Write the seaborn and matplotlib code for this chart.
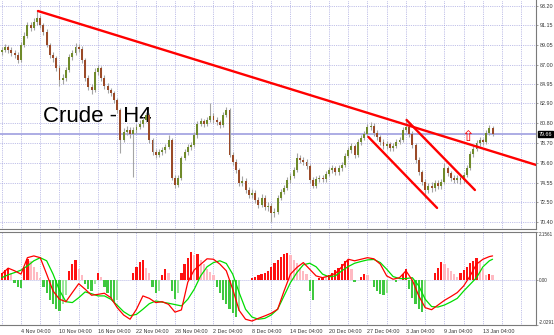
import numpy as np
import pandas as pd
import matplotlib
matplotlib.use("Agg")
import matplotlib.pyplot as plt
import seaborn as sns
from matplotlib.transforms import blended_transform_factory

sns.set_style("white")
plt.rcParams['font.family'] = ['Liberation Sans', 'DejaVu Sans']

# ---------------- data ----------------
opens = [88.30, 88.53, 88.85, 88.53, 88.20, 88.00, 87.48, 89.06, 90.00, 91.17,
         90.85, 91.48, 91.90, 91.17, 90.43, 89.06, 88.00, 87.69, 86.63, 85.37,
         85.60, 86.42, 87.79, 88.20, 88.85, 88.60, 87.48, 85.58, 84.63, 84.31,
         86.21, 86.63, 85.58, 84.74, 84.31, 84.00, 83.26, 82.21, 79.04, 79.89,
         80.10, 79.68, 80.10, 80.42, 80.73, 81.15, 81.68, 79.04, 77.78, 77.46,
         77.78, 77.99, 78.31, 79.04, 75.04, 74.30, 75.04, 77.15, 77.78, 78.31,
         78.52, 79.57, 80.73, 81.05, 80.73, 81.15, 81.57, 81.15, 80.94, 80.63,
         81.68, 82.21, 77.46, 76.73, 75.88, 74.51, 74.70, 73.77, 73.25, 73.46,
         72.72, 72.19, 72.93, 71.98, 72.09, 71.35, 71.46, 72.93, 73.56, 73.98,
         74.83, 75.25, 75.88, 77.15, 76.94, 76.73, 76.30, 74.83, 74.20, 74.93,
         75.04, 74.93, 75.46, 75.88, 76.09, 75.67, 76.09, 76.41, 77.36, 77.99,
         78.41, 77.46, 78.83, 79.25, 79.68, 80.42, 80.52, 79.78, 79.36, 78.83,
         78.41, 78.60, 78.20, 78.41, 78.83, 79.04, 80.10, 80.42, 79.68, 78.52,
         76.94, 75.67, 74.62, 73.77, 74.20, 73.98, 74.51, 74.20, 74.62, 76.09,
         75.56, 75.04, 74.83, 75.04, 74.83, 75.36, 76.09, 77.57, 78.10, 78.73,
         79.04, 78.85, 79.78, 80.31]
highs = [88.80, 89.15, 89.10, 88.85, 88.50, 88.30, 89.40, 90.40, 91.50, 91.50,
         91.90, 92.75, 92.20, 91.40, 90.70, 89.30, 88.30, 87.90, 86.90, 85.95,
         86.70, 88.10, 88.55, 89.25, 89.20, 88.90, 87.70, 85.90, 84.90, 86.60,
         86.95, 86.85, 85.85, 85.05, 84.55, 84.25, 83.50, 82.45, 80.30, 80.50,
         80.40, 80.40, 80.75, 81.10, 81.50, 82.00, 81.90, 79.30, 78.10, 78.05,
         78.30, 78.60, 79.55, 79.25, 75.35, 75.30, 77.40, 78.10, 78.60, 78.85,
         79.90, 81.05, 81.40, 81.30, 81.50, 82.94, 81.85, 81.45, 81.20, 81.95,
         82.50, 82.40, 77.75, 77.00, 76.10, 75.20, 75.00, 74.05, 73.90, 73.75,
         73.00, 73.40, 73.20, 72.50, 72.40, 71.85, 73.20, 73.90, 74.35, 75.15,
         75.60, 76.20, 77.67, 77.45, 77.20, 77.00, 76.55, 75.10, 75.25, 75.40,
         75.35, 75.80, 76.20, 76.40, 76.35, 76.40, 76.75, 77.70, 78.30, 78.75,
         78.65, 79.15, 79.60, 80.00, 80.75, 80.90, 80.85, 80.05, 79.60, 79.10,
         78.90, 78.85, 78.70, 79.10, 79.35, 80.45, 81.36, 80.70, 79.95, 78.75,
         77.20, 75.90, 74.90, 74.55, 74.60, 74.85, 74.80, 74.95, 76.60, 76.35,
         75.80, 75.35, 75.40, 75.30, 75.65, 76.40, 77.85, 78.40, 79.00, 79.35,
         79.30, 80.10, 80.62, 80.50]
lows = [88.05, 88.30, 88.25, 87.90, 87.70, 87.20, 87.30, 88.80, 89.80, 90.50,
        90.60, 91.20, 90.90, 90.10, 88.80, 87.70, 87.30, 86.30, 84.70, 84.90,
        85.30, 86.20, 87.50, 88.00, 88.30, 87.20, 85.30, 84.30, 83.90, 84.10,
        85.90, 85.30, 84.45, 84.00, 83.70, 82.95, 81.90, 77.70, 78.80, 79.60,
        79.30, 75.14, 79.80, 80.15, 80.45, 80.90, 78.70, 77.45, 77.10, 77.20,
        77.50, 77.70, 78.05, 74.80, 73.95, 74.05, 74.85, 76.90, 77.50, 78.00,
        78.30, 79.30, 80.50, 80.45, 80.50, 80.90, 80.85, 80.65, 80.30, 80.40,
        81.45, 77.20, 76.40, 75.55, 74.20, 74.20, 73.45, 72.90, 72.95, 72.40,
        71.90, 71.95, 71.65, 71.60, 70.40, 70.90, 71.25, 72.70, 73.30, 73.75,
        74.55, 75.00, 75.65, 76.65, 76.40, 75.95, 74.50, 73.98, 73.95, 74.65,
        74.60, 74.65, 75.20, 75.60, 75.35, 75.40, 75.80, 76.15, 77.10, 77.70,
        77.15, 77.20, 78.55, 79.00, 79.40, 80.10, 79.50, 79.05, 78.50, 78.10,
        78.10, 77.85, 77.90, 78.15, 78.60, 78.80, 79.90, 79.40, 78.20, 76.65,
        75.35, 74.30, 72.95, 73.45, 73.60, 73.65, 73.85, 73.90, 74.40, 75.25,
        74.70, 74.50, 74.55, 74.45, 74.55, 75.10, 75.85, 77.30, 77.85, 78.45,
        78.55, 78.60, 79.55, 79.45]
closes = [88.53, 88.85, 88.53, 88.20, 88.00, 87.48, 89.06, 90.00, 91.17, 90.85,
          91.48, 91.90, 91.17, 90.43, 89.06, 88.00, 87.69, 86.63, 85.37, 85.60,
          86.42, 87.79, 88.20, 88.85, 88.60, 87.48, 85.58, 84.63, 84.31, 86.21,
          86.63, 85.58, 84.74, 84.31, 84.00, 83.26, 82.21, 79.04, 79.89, 80.10,
          79.68, 80.10, 80.42, 80.73, 81.15, 81.68, 79.04, 77.78, 77.46, 77.78,
          77.99, 78.31, 79.04, 75.04, 74.30, 75.04, 77.15, 77.78, 78.31, 78.52,
          79.57, 80.73, 81.05, 80.73, 81.15, 81.57, 81.15, 80.94, 80.63, 81.68,
          82.21, 77.46, 76.73, 75.88, 74.51, 74.70, 73.77, 73.25, 73.46, 72.72,
          72.19, 72.93, 71.98, 72.09, 71.35, 71.46, 72.93, 73.56, 73.98, 74.83,
          75.25, 75.88, 77.15, 76.94, 76.73, 76.30, 74.83, 74.20, 74.93, 75.04,
          74.93, 75.46, 75.88, 76.09, 75.67, 76.09, 76.41, 77.36, 77.99, 78.41,
          77.46, 78.83, 79.25, 79.68, 80.42, 80.52, 79.78, 79.36, 78.83, 78.41,
          78.60, 78.20, 78.41, 78.83, 79.04, 80.10, 80.42, 79.68, 78.52, 76.94,
          75.67, 74.62, 73.77, 74.20, 73.98, 74.51, 74.20, 74.62, 76.09, 75.56,
          75.04, 74.83, 75.04, 74.83, 75.36, 76.09, 77.57, 78.10, 78.73, 79.04,
          78.85, 79.78, 80.31, 79.66]

hist = [0.30, 0.45, 0.55, 0.30, -0.15, -0.30, -0.35, 0.60, 0.95, 0.85,
        0.60, 0.35, 0.10, -0.30, -0.60, -0.90, -1.10, -1.30, -1.40, -1.10,
        -0.70, 0.40, 0.70, 0.90, 0.50, 0.20, -0.20, -0.40, -0.50, -0.20,
        0.30, 0.15, -0.30, -0.60, -0.80, -1.00, -0.90, 0.00, 0.00, 0.00,
        0.00, 0.30, 0.60, 0.80, 0.90, 0.55, 0.30, -0.30, -0.60, -0.50,
        0.20, 0.50, 0.30, -0.50, -0.85, -0.60, 0.30, 0.70, 1.00, 1.25,
        1.10, 1.15, 0.90, 0.70, 0.50, 0.35, 0.20, -0.30, -0.60, -0.90,
        -1.10, -1.30, -1.50, -1.65, -1.40, 0.00, 0.00, 0.00, 0.10, 0.15,
        0.20, 0.25, 0.30, 0.40, 0.60, 0.75, 0.90, 1.05, 1.15, 1.23,
        1.10, 0.90, 0.75, 0.55, 0.40, 0.25, -0.50, -0.90, 0.00, 0.10,
        0.15, 0.12, 0.20, 0.30, 0.45, 0.55, 0.70, 0.85, 0.90, 0.50,
        -0.10, 0.00, 0.15, 0.25, 0.20, 0.00, -0.30, -0.50, -0.65, -0.70,
        -0.60, 0.00, 0.00, -0.10, 0.00, 0.25, 0.50, -0.40, -0.80, -1.10,
        -1.30, -1.45, -1.20, 0.00, 0.00, 0.30, 0.55, 0.80, 0.70, 0.55,
        0.40, 0.25, 0.15, 0.30, 0.45, 0.60, 0.75, 0.85, 1.00, 0.80,
        0.50, 0.20, 0.25, 0.20]

line_bars = list(range(0, 153, 2)) + [153]
fast_line = [0.26, 0.53, 0.41, 0.26, 1.00, 1.08, 1.00, 0.26, -0.50, -0.87,
             -0.98, -0.57, -0.17, -0.42, -0.69, -0.65, -0.60, -0.80, -1.25, -1.58,
             -1.77, -1.32, -0.72, -0.83, -1.02, -0.98, -1.10, -1.45, -1.35, -0.10,
             0.45, 0.70, 0.95, 0.93, 0.71, 0.41, -0.42, -1.37, -1.77, -1.85,
             -1.73, -1.62, -1.50, -1.32, -0.50, 0.26, 0.56, 0.78, 0.48, 0.18,
             0.10, 0.18, 0.29, 0.59, 0.93, 0.86, 0.93, 1.00, 0.95, 0.71,
             0.18, 0.03, 0.10, 0.41, -0.02, -0.72, -1.25, -1.34, -1.13, -0.92,
             -0.75, -0.57, -0.27, 0.18, 0.71, 0.93, 1.05, 1.08]
slow_line = [0.10, 0.23, 0.33, 0.44, 0.63, 0.86, 1.00, 0.86, 0.26, -0.47,
             -0.98, -1.02, -0.80, -0.54, -0.62, -0.72, -0.72, -0.87, -1.14, -1.43,
             -1.61, -1.55, -1.32, -1.07, -0.95, -1.00, -1.05, -1.11, -1.17, -0.87,
             -0.42, 0.18, 0.59, 0.78, 0.86, 0.74, 0.26, -0.57, -1.32, -1.67,
             -1.77, -1.73, -1.58, -1.32, -0.72, -0.12, 0.33, 0.68, 0.75, 0.59,
             0.26, 0.14, 0.18, 0.41, 0.60, 0.75, 0.83, 0.90, 0.92, 0.78,
             0.48, 0.15, 0.06, 0.06, 0.10, -0.27, -0.87, -1.20, -1.22, -1.13,
             -0.99, -0.83, -0.50, -0.20, 0.10, 0.59, 0.86, 0.93]

date_ticks = [6, 18, 30, 42, 54, 66, 78, 90, 102, 114, 126, 138, 150]
date_labels = ['4 Nov 04:00', '10 Nov 04:00', '16 Nov 04:00', '22 Nov 04:00',
               '28 Nov 04:00', '2 Dec 04:00', '8 Dec 04:00', '14 Dec 04:00',
               '20 Dec 04:00', '27 Dec 04:00', '3 Jan 04:00', '9 Jan 04:00',
               '13 Jan 04:00']
price_ticks = [93.20, 91.15, 89.05, 87.00, 84.95, 82.90, 80.80, 78.70,
               76.60, 74.55, 72.50, 70.40]
ind_ticks = [2.1561, 0.00, -2.0291]
ind_labels = ['2.1561', '0.00', '-2.0291']
last_price = 79.66

trend_long_x = [11.3, 166.6]
trend_long_y = [92.64, 76.41]
trend_a_x = [114.3, 135.7]
trend_a_y = [79.36, 71.88]
trend_b_x = [126.2, 147.5]
trend_b_y = [81.15, 73.77]
arrow_bar, arrow_price = 145.3, 79.40
title_text = 'Crude - H4'

# ---------------- figure ----------------
W, H = 554, 335
fig = plt.figure(figsize=(W / 100, H / 100), dpi=100)
fig.patch.set_facecolor('white')
right = 536 / W
ax1 = fig.add_axes([0, 1 - 229 / H, right, 229 / H])
ax2 = fig.add_axes([0, 1 - 325 / H, right, 93 / H])

xlim = (-0.545, 166.54)
grid_col = '#9c9cdc'
grid_ls = (0, (1, 1.4))
spine_col = '#7a7a7a'
lab_col = '#333333'

df = pd.DataFrame({'bar': np.arange(len(closes)), 'open': opens, 'high': highs,
                   'low': lows, 'close': closes, 'hist': hist})

# grid
for ax in (ax1, ax2):
    ax.set_xlim(*xlim)
    for v in np.arange(0, 167, 6):
        ax.axvline(v, color=grid_col, ls=grid_ls, lw=0.55, zorder=0)
for p in price_ticks:
    ax1.axhline(p, color=grid_col, ls=grid_ls, lw=0.55, zorder=0)
ax2.axhline(0, color=grid_col, ls=grid_ls, lw=0.6, zorder=0)

# price panel
ax1.set_ylim(69.66, 93.80)
ax1.text(43 / W, 1 - 122 / H, title_text, transform=fig.transFigure,
         fontsize=16, color='black', va='baseline', ha='left', zorder=1,
         family=['Liberation Sans', 'DejaVu Sans'])
ax1.axhline(last_price, color='#a6a6e2', lw=1.3, zorder=2)

up = df['close'] >= df['open']
ax1.vlines(df['bar'], df['low'], df['high'], color='#a5a5a5', lw=0.8, zorder=3)
ax1.bar(df['bar'], (df['close'] - df['open']).abs().clip(lower=0.06),
        bottom=np.minimum(df['open'], df['close']), width=0.6,
        color=np.where(up, '#6f8a2a', '#9a4a28'), linewidth=0, zorder=4)

for tx, ty in ((trend_long_x, trend_long_y), (trend_a_x, trend_a_y), (trend_b_x, trend_b_y)):
    sns.lineplot(x=tx, y=ty, ax=ax1, color='#ff0000', lw=1.7, zorder=5)

ax1.text(arrow_bar, arrow_price, '\u21e7', color='#ff0000', fontsize=11,
         ha='center', va='center', family=['DejaVu Sans'], zorder=6)

ax1.yaxis.tick_right()
ax1.set_yticks(price_ticks)
ax1.set_yticklabels([f'{p:.2f}' for p in price_ticks])
ax1.tick_params(axis='y', length=1.5, width=0.5, pad=1, labelsize=3.9,
                colors=spine_col, labelcolor=lab_col)
ax1.set_xticks([])
tr = blended_transform_factory(ax1.transAxes, ax1.transData)
ax1.text(1.005, last_price, f'{last_price:.2f}', transform=tr, color='white',
         fontsize=3.9, va='center', ha='left', clip_on=False, zorder=10,
         bbox=dict(facecolor='black', edgecolor='black', pad=0.4))

# indicator panel
ax2.set_ylim(-2.0291, 2.1561)
prev = df['hist'].shift(1).fillna(0)
colors = np.where(df['hist'] >= 0,
                  np.where(df['hist'] >= prev, '#ff1010', '#ffb9c2'),
                  np.where(df['hist'] <= prev, '#3fc83f', '#9be69b'))
ax2.bar(df['bar'], df['hist'], width=0.7, color=colors, linewidth=0, zorder=2)
sns.lineplot(x=line_bars, y=slow_line, ax=ax2, color='#00dd00', lw=0.9, zorder=3)
sns.lineplot(x=line_bars, y=fast_line, ax=ax2, color='#ff0000', lw=0.9, zorder=4)

ax2.yaxis.tick_right()
ax2.set_yticks(ind_ticks)
ax2.set_yticklabels(ind_labels)
ax2.tick_params(axis='y', length=1.5, width=0.5, pad=0.8, labelsize=3.3,
                colors=spine_col, labelcolor=lab_col)
ylabs = ax2.get_yticklabels()
ylabs[0].set_va('top')
ylabs[-1].set_va('bottom')
ax2.set_xticks(date_ticks)
ax2.set_xticklabels(date_labels)
ax2.tick_params(axis='x', length=2, width=0.5, pad=0.6, labelsize=3.9,
                colors=spine_col, labelcolor=lab_col)
for lab in ax2.get_xticklabels():
    lab.set_ha('left')

for ax in (ax1, ax2):
    ax.set_xlabel('')
    ax.set_ylabel('')
    ax.set_facecolor('white')
    for s in ax.spines.values():
        s.set_color(spine_col)
        s.set_linewidth(0.8)
    ax.spines['left'].set_visible(False)
ax1.spines['top'].set_visible(False)

fig.savefig('out.png', dpi=100)
